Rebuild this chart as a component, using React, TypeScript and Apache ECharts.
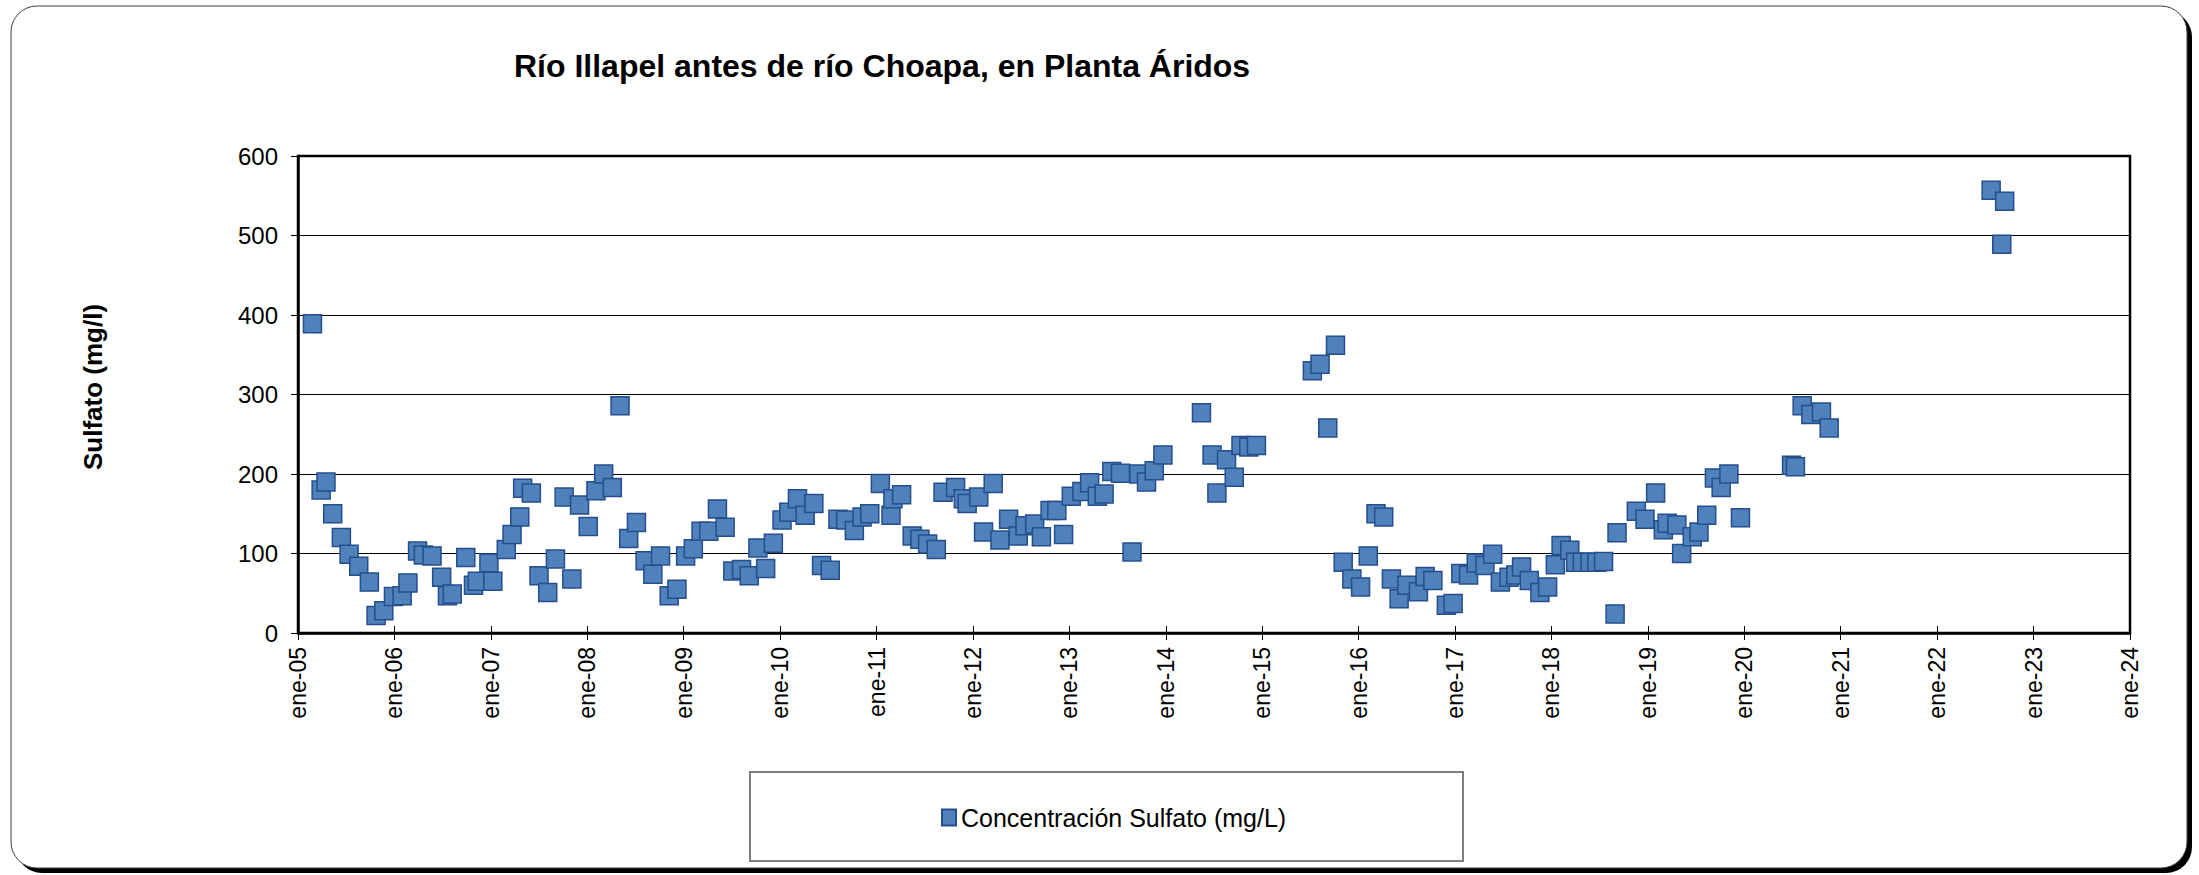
import React, { useEffect, useRef } from "react";
import * as echarts from "echarts";

// Sampling dates (decimal years)
const fechas: number[] = [
  2005.15, 2005.24, 2005.29, 2005.36, 2005.45, 2005.53, 2005.63, 2005.74, 2005.81, 2005.89, 2005.99,
  2006.08, 2006.14, 2006.24, 2006.3, 2006.39, 2006.49, 2006.55, 2006.6, 2006.74, 2006.82, 2006.86, 2006.98,
  2007.02, 2007.16, 2007.22, 2007.3, 2007.33, 2007.42, 2007.5, 2007.59, 2007.67, 2007.76, 2007.84, 2007.92,
  2008.01, 2008.09, 2008.17, 2008.26, 2008.34, 2008.43, 2008.51, 2008.6, 2008.68, 2008.76, 2008.85, 2008.93,
  2009.02, 2009.1, 2009.18, 2009.26, 2009.35, 2009.43, 2009.51, 2009.6, 2009.68, 2009.77, 2009.85, 2009.93,
  2010.02, 2010.09, 2010.18, 2010.26, 2010.35, 2010.43, 2010.52, 2010.6, 2010.68, 2010.77, 2010.85, 2010.93,
  2011.04, 2011.15, 2011.17, 2011.26, 2011.37, 2011.45, 2011.53, 2011.62, 2011.69, 2011.82, 2011.9, 2011.94,
  2012.06, 2012.11, 2012.21, 2012.28, 2012.37, 2012.47, 2012.54, 2012.64, 2012.71, 2012.8, 2012.87, 2012.94,
  2013.02, 2013.13, 2013.21, 2013.29, 2013.36, 2013.44, 2013.53, 2013.65, 2013.72, 2013.8, 2013.88, 2013.97,
  2014.37, 2014.48, 2014.53, 2014.63, 2014.71, 2014.78, 2014.86, 2014.94,
  2015.52, 2015.6, 2015.68, 2015.76, 2015.84, 2015.93,
  2016.02, 2016.1, 2016.18, 2016.26, 2016.34, 2016.42, 2016.5, 2016.62, 2016.69, 2016.77, 2016.91, 2016.98,
  2017.06, 2017.14, 2017.22, 2017.31, 2017.39, 2017.47, 2017.56, 2017.63, 2017.69, 2017.77, 2017.88, 2017.96,
  2018.04, 2018.1, 2018.19, 2018.25, 2018.32, 2018.4, 2018.47, 2018.54, 2018.66, 2018.68, 2018.88, 2018.97,
  2019.08, 2019.16, 2019.2, 2019.3, 2019.35, 2019.46, 2019.53, 2019.61, 2019.69, 2019.76, 2019.84, 2019.96,
  2020.49, 2020.53, 2020.6, 2020.69, 2020.8, 2020.88,
  2022.56, 2022.67, 2022.7,
];

// Sulfate concentration (mg/L)
const sulfato: number[] = [
  389, 180, 190, 150, 120, 99, 84, 64, 22, 28, 46,
  47, 63, 103, 98, 97, 70, 47, 49, 95, 60, 65, 88,
  65, 105, 124, 146, 182, 176, 72, 51, 93, 171, 68, 161,
  134, 179, 200, 183, 286, 119, 139, 91, 74, 97, 47, 55,
  97, 106, 128, 128, 156, 133, 78, 80, 72, 107, 81, 113,
  142, 152, 169, 148, 163, 85, 79, 143, 142, 129, 146, 150,
  188, 148, 169, 174, 122, 118, 112, 105, 177, 183, 169, 163,
  171, 127, 188, 117, 143, 122, 135, 137, 121, 154, 154, 124,
  172, 178, 189, 172, 175, 203, 201, 102, 200, 190, 204, 224,
  277, 224, 176, 218, 196, 236, 234, 236,
  330, 338, 258, 362, 89, 68,
  58, 97, 150, 146, 68, 43, 60, 52, 71, 66, 35, 37,
  75, 73, 88, 85, 99, 64, 70, 73, 83, 66, 51, 58,
  86, 110, 104, 89, 89, 89, 89, 90, 24, 126, 153, 143,
  176, 130, 138, 136, 100, 121, 127, 148, 195, 183, 200, 145,
  211, 209, 286, 275, 278, 258,
  557, 489, 543,
];

const anios: number[] = [2005, 2024];
const valoresY: number[] = [0, 600];
const titulo = "Río Illapel antes de río Choapa, en Planta Áridos";
const nombreSerie = "Concentración Sulfato (mg/L)";
const nombreEjeY = "Sulfato (mg/l)";
const prefijoMes = "ene-";

const FONT = "'Liberation Sans', Arial, sans-serif";

export default function App() {
  const ref = useRef<HTMLDivElement>(null);
  useEffect(() => {
    document.body.style.margin = "0";
    if (!ref.current) return;
    const chart = echarts.init(ref.current, undefined, { renderer: "svg" });
    const data = fechas.map((f, i) => [f, sulfato[i]]);
    chart.setOption({
      animation: false,
      backgroundColor: "#ffffff",
      title: {
        text: titulo,
        left: 514,
        top: 50,
        padding: 0,
        textStyle: { fontSize: 32, fontWeight: "bold", color: "#000", fontFamily: FONT },
      },
      legend: {
        data: [nombreSerie],
        left: 941,
        top: 805,
        padding: 0,
        icon: "rect",
        itemWidth: 14,
        itemHeight: 16,
        itemGap: 5,
        textStyle: { fontSize: 25, color: "#000", fontFamily: FONT, padding: [0, 0, 0, 0] },
      },
      graphic: [
        {
          type: "rect",
          z: -100,
          shape: { x: 16, y: 11, width: 2176, height: 862, r: 26 },
          style: { fill: "#000" },
          silent: true,
        },
        {
          type: "rect",
          z: -99,
          shape: { x: 11, y: 6, width: 2176, height: 862, r: 26 },
          style: { fill: "#fff", stroke: "#404040", lineWidth: 1 },
          silent: true,
        },
        {
          type: "rect",
          z: -98,
          shape: { x: 750, y: 772, width: 713, height: 89 },
          style: { fill: "#fff", stroke: "#7f7f7f", lineWidth: 2 },
          silent: true,
        },
        {
          type: "text",
          x: 93,
          y: 387,
          rotation: Math.PI / 2,
          style: {
            text: nombreEjeY,
            fontSize: 26,
            fontWeight: "bold",
            fontFamily: FONT,
            fill: "#000",
            align: "center",
            verticalAlign: "middle",
          },
        },
      ],
      grid: {
        left: 298,
        right: 69,
        top: 156,
        bottom: 242,
        show: true,
        borderColor: "#000",
        borderWidth: 2.5,
        backgroundColor: "transparent",
      },
      xAxis: [
        {
          type: "value",
          min: anios[0],
          max: anios[1],
          interval: 1,
          axisLine: { show: true, onZero: false, lineStyle: { color: "#000", width: 2.5 } },
          axisTick: { show: true, inside: false, length: 7, lineStyle: { color: "#000", width: 1 } },
          splitLine: { show: false },
          axisLabel: {
            rotate: 90,
            margin: 14,
            fontSize: 23,
            color: "#000",
            fontFamily: FONT,
            formatter: (v: number) => prefijoMes + String(Math.round(v)).slice(2),
          },
        },
        {
          type: "value",
          position: "bottom",
          min: anios[0],
          max: anios[1],
          interval: 1,
          axisLine: { show: false },
          axisTick: { show: true, inside: true, length: 7, lineStyle: { color: "#000", width: 1 } },
          splitLine: { show: false },
          axisLabel: { show: false },
        },
      ],
      yAxis: {
        type: "value",
        min: valoresY[0],
        max: valoresY[1],
        interval: 100,
        axisLine: { show: true, lineStyle: { color: "#000", width: 2.5 } },
        axisTick: { show: true, inside: false, length: 7, lineStyle: { color: "#000", width: 1 } },
        splitLine: { show: true, lineStyle: { color: "#000", width: 1 } },
        axisLabel: { margin: 20, fontSize: 24, color: "#000", fontFamily: FONT },
      },
      series: [
        {
          name: nombreSerie,
          type: "scatter",
          symbol: "rect",
          symbolSize: 18,
          data,
          itemStyle: { color: "#4F81BD", borderColor: "#254E8A", borderWidth: 1.5, opacity: 1 },
        },
      ],
    });
    return () => chart.dispose();
  }, []);
  return <div ref={ref} style={{ width: 2199, height: 875 }} />;
}
